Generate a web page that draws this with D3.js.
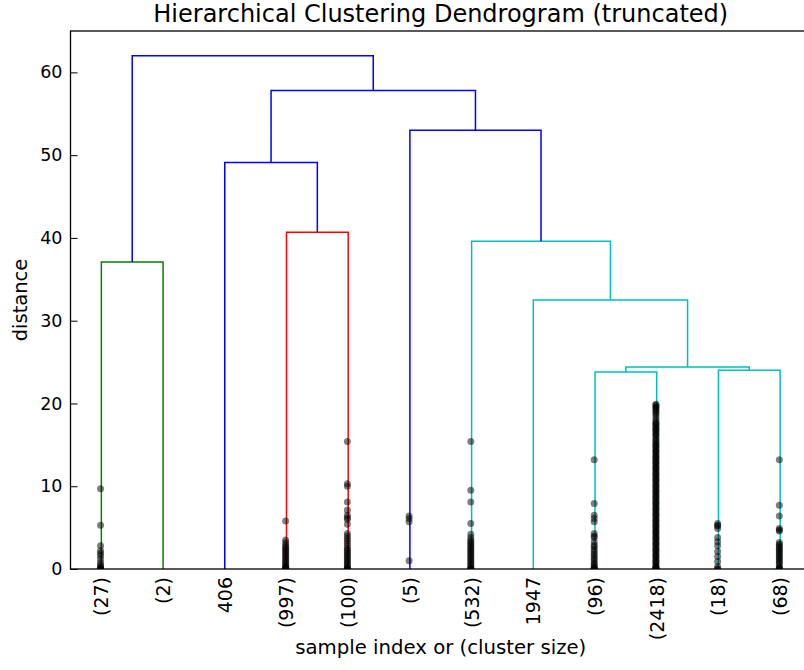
<!DOCTYPE html>
<html>
<head>
<meta charset="utf-8">
<script src="https://cdn.jsdelivr.net/npm/d3@7"></script>
<style>
  body { margin: 0; background: #fff; }
  text { font-family: "DejaVu Sans", sans-serif; fill: #000; }
</style>
</head>
<body>
<div id="chart"></div>
<script>
// DATA

// leaves, left to right
var leafLabels = ["(27)", "(2)", "406", "(997)", "(100)", "(5)", "(532)", "1947", "(96)", "(2418)", "(18)", "(68)"]

// merges, scipy style: leaves are 0..11, merge k becomes node 12 + k
var mergeLeft   = [0, 3, 8, 10, 14, 7, 6, 5, 2, 20, 12]
var mergeRight  = [1, 4, 9, 11, 15, 16, 17, 18, 13, 19, 21]
var mergeHeight = [37.1, 40.7, 23.8, 24.0, 24.4, 32.5, 39.6, 53.0, 49.1, 57.8, 62.0]
var mergeGroup  = ["g", "r", "c", "c", "c", "c", "c", "b", "b", "b", "b"]

// heights of the merges hidden inside each truncated leaf
var contracted = [
    [9.7, 5.3, 2.8, 2.2, 1.9, 1.6, 1.2, 0.8, 0.5, 0.3, 0.1, 0, 0, 0, 0, 0],
    [],
    [],
    [5.8, 3.5, 3.2, 2.9, 2.7, 2.5, 2.3, 2.1, 1.9, 1.7, 1.5, 1.3, 1.1, 0.9, 0.7, 0.5, 0.3, 0.2, 0.1, 0, 0, 0, 0],
    [15.4, 10.3, 10.0, 8.1, 7.1, 6.5, 6.2, 6.0, 5.4, 4.3, 4.0, 3.7, 3.4, 3.1, 2.8, 2.5, 2.3, 2.1, 1.9,
     1.7, 1.5, 1.3, 1.1, 0.9, 0.7, 0.5, 0.3, 0.1, 0, 0, 0, 0],
    [6.4, 6.1, 5.7, 1.0],
    [15.4, 9.5, 8.1, 5.5, 4.2, 3.8, 3.5, 3.3, 3.1, 2.9, 2.7, 2.5, 2.3, 2.1, 1.9, 1.7, 1.5, 1.3, 1.1,
     0.9, 0.7, 0.5, 0.3, 0.1, 0, 0, 0, 0],
    [],
    [13.2, 7.9, 6.5, 6.1, 5.7, 4.3, 4.0, 3.8, 3.3, 2.9, 2.7, 2.4, 2.1, 1.8, 1.6, 1.3, 1.1, 0.8, 0.6,
     0.4, 0.2, 0, 0, 0, 0],
    [19.9, 19.8, 19.6, 19.5, 19.3, 19.1, 18.9, 18.7, 18.4, 18.1, 17.8, 17.6, 17.5, 17.3, 17.1, 16.9,
     16.8, 16.6, 16.4, 16.2, 16.1, 15.8, 15.6, 15.4, 15.2, 15.0, 14.9, 14.7, 14.5, 14.3, 14.2, 14.0,
     13.8, 13.6, 13.5, 13.3, 13.1, 12.9, 12.8, 12.6, 12.4, 12.2, 12.1, 11.9, 11.7, 11.5, 11.4, 11.2,
     11.0, 10.8, 10.7, 10.5, 10.3, 10.1, 10.0, 9.8, 9.6, 9.4, 9.3, 9.1, 8.9, 8.7, 8.6, 8.4, 8.2,
     8.0, 7.9, 7.7, 7.5, 7.3, 7.2, 7.0, 6.8, 6.6, 6.5, 6.3, 6.1, 5.9, 5.8, 5.6, 5.4, 5.2, 5.1, 4.9,
     4.7, 4.5, 4.4, 4.2, 4.0, 3.8, 3.7, 3.5, 3.3, 3.1, 3.0, 2.8, 2.6, 2.4, 2.3, 2.1, 1.9, 1.7, 1.6,
     1.4, 1.2, 1.0, 0.9, 0.7, 0.5, 0.3, 0.2, 0.1, 0, 0, 0, 0, 0, 0],
    [5.5, 5.3, 5.2, 4.9, 3.8, 3.3, 2.8, 2.1, 1.5, 0.9, 0.3, 0, 0],
    [13.2, 7.7, 6.4, 4.9, 4.7, 4.6, 3.2, 3.0, 2.8, 2.6, 2.4, 2.2, 2.0, 1.8, 1.6, 1.4, 1.2, 1.0, 0.8,
     0.6, 0.3, 0.1, 0, 0, 0]
]

var yTicks = [0, 10, 20, 30, 40, 50, 60]

// DIMENSIONS

var svgWidth = 804
var svgHeight = 670

var plotLeft = 70.5
var plotRight = 811   // right spine falls outside the picture
var plotTop = 31
var plotBottom = 569

var colors = { b: "#0000ff", g: "#008000", r: "#ff0000", c: "#00bfbf" }

var svg = d3.select("#chart").append("svg")
    .attr("width", svgWidth)
    .attr("height", svgHeight)

var xScale = d3.scaleLinear().domain([0, leafLabels.length * 10]).range([plotLeft, plotRight])
var yScale = d3.scaleLinear().domain([0, 65]).range([plotBottom, plotTop])

svg.append("clipPath").attr("id", "plotClip")
    .append("rect")
    .attr("x", plotLeft).attr("y", plotTop)
    .attr("width", plotRight - plotLeft).attr("height", plotBottom - plotTop)

// node positions: leaves at 5, 15, 25 ...; merges at the mean of children
var nodeX = leafLabels.map((d, i) => 5 + 10 * i)
var nodeY = leafLabels.map(d => 0)
mergeLeft.forEach((l, k) => {
    nodeX.push((nodeX[l] + nodeX[mergeRight[k]]) / 2)
    nodeY.push(mergeHeight[k])
})

var links = mergeLeft.map((l, k) => ({
    x0: nodeX[l], y0: nodeY[l],
    x1: nodeX[mergeRight[k]], y1: nodeY[mergeRight[k]],
    h: mergeHeight[k], group: mergeGroup[k]
}))

var plot = svg.append("g").attr("clip-path", "url(#plotClip)")

plot.selectAll("path.link")
    .data(links)
    .enter()
    .append("path")
    .classed("link", true)
    .attr("d", d => `M${xScale(d.x0)},${yScale(d.y0)}V${yScale(d.h)}H${xScale(d.x1)}V${yScale(d.y1)}`)
    .attr("fill", "none")
    .attr("stroke", d => colors[d.group])
    .attr("stroke-width", 1.5)

var dots = []
contracted.forEach((hs, i) => hs.forEach(h => dots.push({ leaf: i, h: h })))

plot.selectAll("circle")
    .data(dots)
    .enter()
    .append("circle")
    .attr("cx", d => xScale(nodeX[d.leaf]) - 0.8)
    .attr("cy", d => yScale(d.h))
    .attr("r", 3.5)
    .attr("fill", "#000")
    .attr("fill-opacity", 0.5)

// AXES

svg.append("g")
    .attr("transform", `translate(${plotLeft},0)`)
    .call(d3.axisLeft(yScale).tickValues(yTicks).tickSizeInner(-7).tickSizeOuter(0).tickPadding(8))
    .call(g => g.select(".domain").remove())
    .call(g => g.selectAll("line").attr("stroke", "#000").attr("stroke-width", 1))
    .call(g => g.selectAll("text").attr("font-size", 17.5).attr("font-family", "DejaVu Sans"))

// spines
svg.append("rect")
    .attr("x", plotLeft).attr("y", plotTop)
    .attr("width", plotRight - plotLeft).attr("height", plotBottom - plotTop)
    .attr("fill", "none")
    .attr("stroke", "#000")
    .attr("stroke-width", 1.3)

// leaf labels
svg.selectAll("text.leaf")
    .data(leafLabels)
    .enter()
    .append("text")
    .classed("leaf", true)
    .attr("transform", (d, i) => `translate(${xScale(nodeX[i])},577) rotate(-90)`)
    .attr("text-anchor", "end")
    .attr("dominant-baseline", "central")
    .attr("font-size", 19)
    .text(d => d)

svg.append("text")
    .attr("x", (plotLeft + plotRight) / 2)
    .attr("y", 22)
    .attr("text-anchor", "middle")
    .attr("font-size", 24)
    .text("Hierarchical Clustering Dendrogram (truncated)")

svg.append("text")
    .attr("x", (plotLeft + plotRight) / 2)
    .attr("y", 654)
    .attr("text-anchor", "middle")
    .attr("font-size", 19.7)
    .text("sample index or (cluster size)")

svg.append("text")
    .attr("transform", `translate(27,${(plotTop + plotBottom) / 2}) rotate(-90)`)
    .attr("text-anchor", "middle")
    .attr("font-size", 19.5)
    .text("distance")
</script>
</body>
</html>
